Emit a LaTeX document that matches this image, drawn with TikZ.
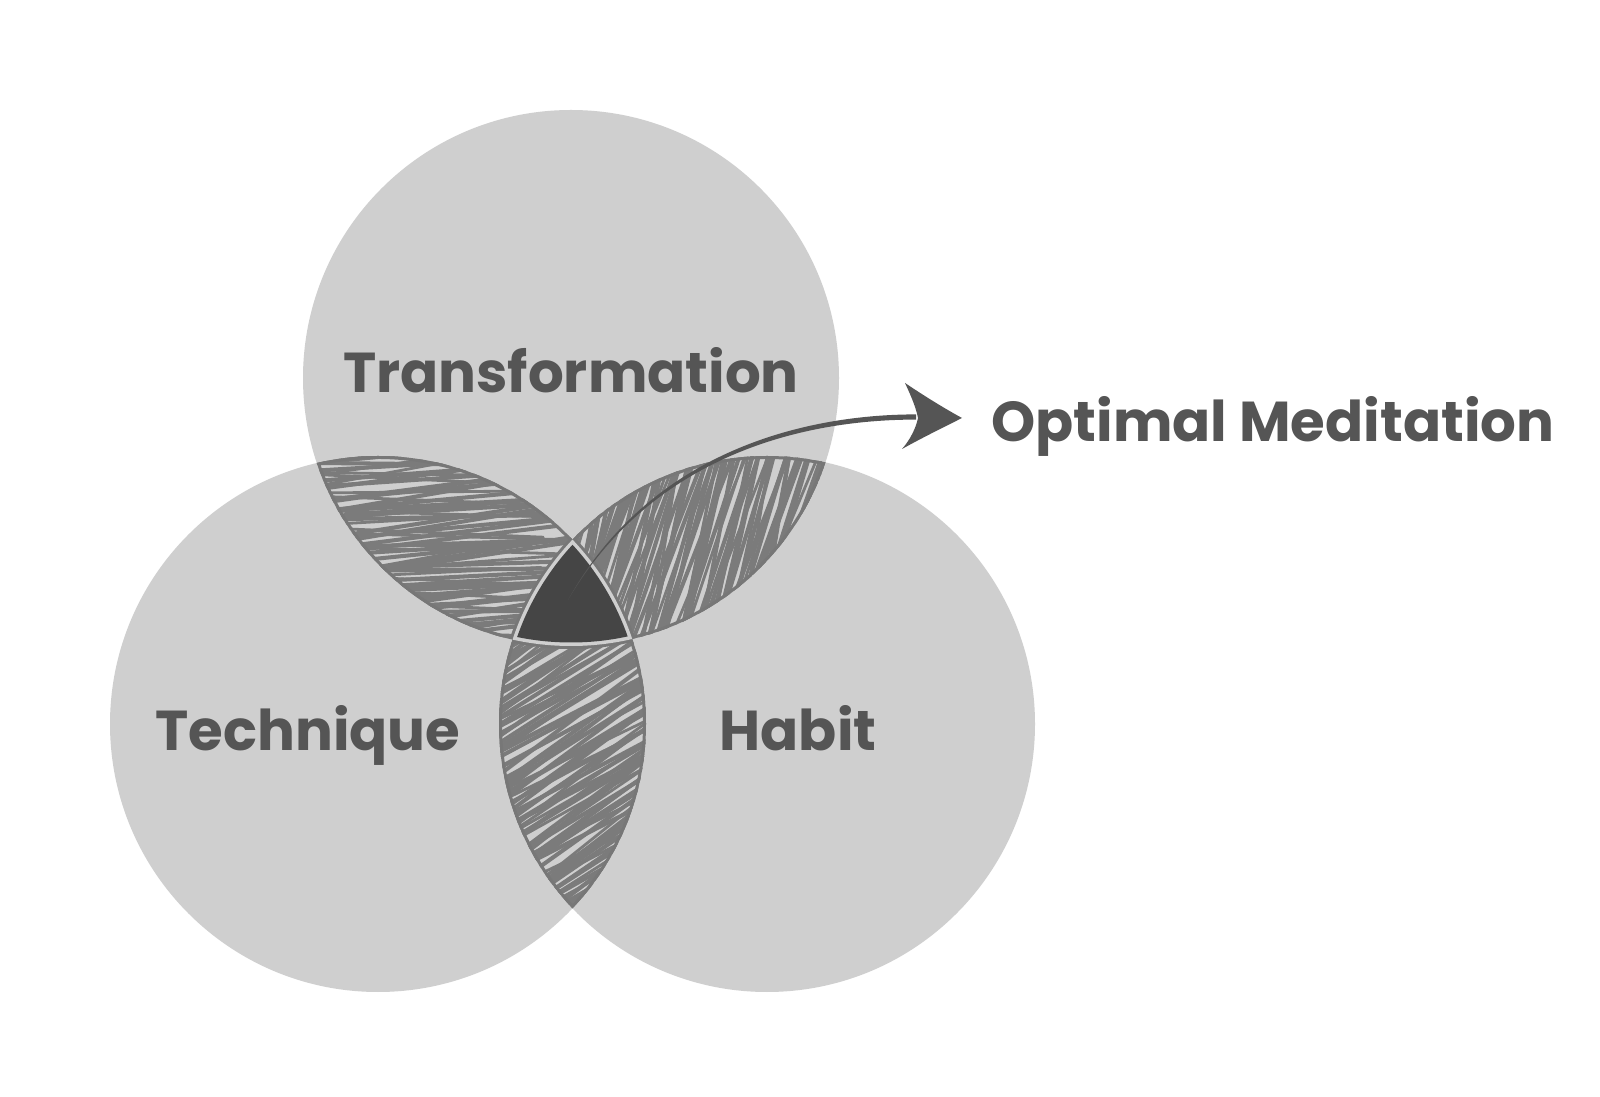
\documentclass[tikz,border=0pt]{standalone}
\usepackage{fontspec}
\newfontfamily\pop{Poppins}
\usetikzlibrary{calc}
\definecolor{circ}{HTML}{CFCFCF}
\definecolor{hatchc}{HTML}{7B7B7B}
\definecolor{rim}{HTML}{777777}
\definecolor{core}{HTML}{454545}
\definecolor{ink}{HTML}{555555}
\newcommand\rad{268}
\newcommand\rin{264.5}
\newcommand\lens[5]{%
\begin{scope}
\clip (#1) circle[radius=\rad];
\clip (#2) circle[radius=\rad];
\foreach \i in {-48,...,48}{
 \pgfmathsetmacro\ang{#5+6*rand}
 \pgfmathsetmacro\off{4.6*\i+2*rand}
 \draw[hatch] ($(#4)+(#5+90:\off)$) ++(\ang:-230) -- ++(\ang:460);
}
\foreach \i in {-30,...,30}{
 \pgfmathsetmacro\ang{#5+7*rand}
 \pgfmathsetmacro\off{7*\i+3*rand}
 \pgfmathsetmacro\sh{40*rand}
 \draw[hatch, line width=1.6pt] ($(#4)+(#5+90:\off)+(#5:\sh)$) ++(\ang:-130) -- ++(\ang:260);
}
\draw[rimline] (#1) circle[radius=\rad] (#2) circle[radius=\rad] (#3) circle[radius=\rad];
\end{scope}}
\begin{document}
\begin{tikzpicture}[x=0.02cm,y=-0.02cm,
  hatch/.style={hatchc, line width=2.3pt, line cap=round},
  rimline/.style={rim, line width=3.4pt},
  lbl/.style={ink, font=\pop\bfseries\fontsize{32}{38}\selectfont, inner sep=0pt, anchor=base}]
\pgfmathsetseed{7}
\useasboundingbox (0,0) rectangle (1600,1097);
\fill[white] (0,0) rectangle (1600,1097);
\coordinate (T) at (571,378);
\coordinate (L) at (378,724);
\coordinate (R) at (767,724);
\fill[circ] (T) circle[radius=\rad] (L) circle[radius=\rad] (R) circle[radius=\rad];
% lenses
\coordinate (mTL) at (440,535);
\coordinate (mTR) at (705,535);
\coordinate (mLR) at (572,760);
\lens{T}{L}{R}{mTL}{-4}
\lens{T}{R}{L}{mTR}{-74}
\lens{L}{R}{T}{mLR}{-32}
% triple region
\begin{scope}
\clip (T) circle[radius=\rad];
\clip (L) circle[radius=\rad];
\fill[circ] (R) circle[radius=\rad];
\end{scope}
\begin{scope}
\clip (T) circle[radius=\rin];
\clip (L) circle[radius=\rin];
\fill[core] (R) circle[radius=\rin];
\end{scope}
% labels
\node[lbl] (trans) at (571,393) {Transformation};
\node[lbl] (tech) at (308,751) {Technique};
\node[lbl] (hab) at (798,751) {Habit};
\node[lbl, anchor=base west] (opt) at (991,442) {Optimal Meditation};
% arrow
\coordinate (aS) at (568,600);
\coordinate (aE) at (916,417);
\coordinate (aTip) at (962,418);
\fill[ink] (aS) .. controls (649,454) and (800,414.5) .. ($(aE)+(0,-2.6)$)
  -- ($(aE)+(0,2.6)$) .. controls (800,419.5) and (652,457) .. (aS) -- cycle;
\fill[ink] (aTip) .. controls (940,406) and (920,393) .. (905,383)
  .. controls (912,398) and (916,408) .. (918,418)
  .. controls (916,428) and (910,440) .. (902,449)
  .. controls (920,439) and (940,429) .. (aTip) -- cycle;
\end{tikzpicture}
\end{document}
